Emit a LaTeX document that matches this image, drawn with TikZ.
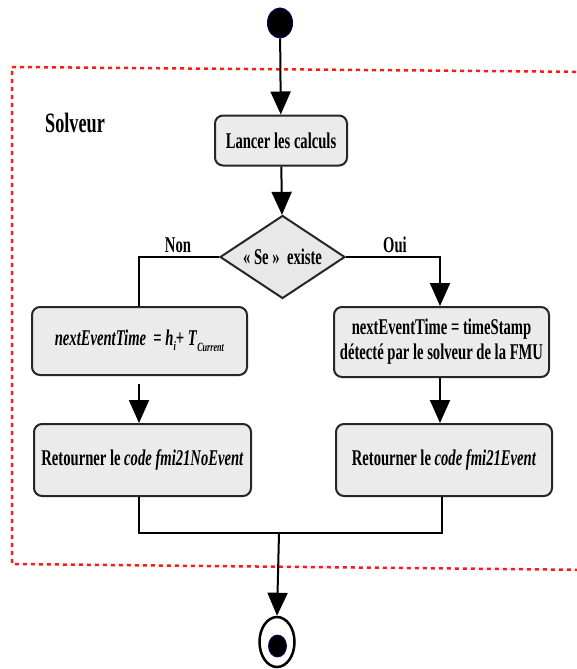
\documentclass[tikz,border=0pt]{standalone}
\usepackage{fontspec}
\setmainfont{Liberation Serif}[FakeStretch=0.65]
\usetikzlibrary{shapes.geometric,arrows.meta}
\tikzset{
  x=1pt,y=1pt,
  base/.style={line width=2pt, draw=black!85},
  actbox/.style={base, rectangle, rounded corners=8pt, fill=black!8, align=center,
     font=\fontsize{22.5}{25}\selectfont\bfseries, inner sep=0pt},
  decbox/.style={base, diamond, fill=black!9, inner sep=0pt},
  lbl/.style={font=\fontsize{22.5}{25}\selectfont\bfseries, inner sep=0pt},
  conn/.style={line width=2pt, draw=black},
  arr/.style={conn, -{Triangle[width=20pt,length=23pt]}},
}
\begin{document}
\begin{tikzpicture}
\clip (0,0) rectangle (577,-669);
\fill[white] (0,0) rectangle (577,-669);
% frame
\draw[red!90!white, line width=2.5pt, dash pattern=on 4pt off 4pt]
  (600,-72) -- (12,-67) -- (12,-564) -- (600,-570);
\node[lbl, font=\fontsize{28}{30}\selectfont\bfseries] (solv) at (75,-123) {Solveur};
% nodes
\node[ellipse, fill=black, draw=blue!40!black, line width=1pt, minimum width=25pt, minimum height=30pt, inner sep=0pt] (start) at (280,-23) {};
\node[actbox, minimum width=132pt, minimum height=50pt] (lancer) at (281,-140.5) {Lancer les calculs};
\node[decbox, minimum width=125pt, minimum height=83pt, aspect=1.5] (dec) at (282.5,-257) {};
\node[lbl] (dectext) at (282.5,-257) {«\,Se\,»\ \ existe};
\node[actbox, minimum width=215pt, minimum height=68pt] (l1) at (139.5,-341)
  {\textit{nextEventTime}\ \ = \textit{h}\raisebox{-5pt}{\fontsize{13}{13}\selectfont\textit{i}}+ \textit{T}\raisebox{-6pt}{\fontsize{12.5}{12.5}\selectfont\textit{Current}}};
\node[actbox, minimum width=215pt, minimum height=70pt] (r1) at (441.5,-342)
  {nextEventTime = timeStamp\\ détecté par le solveur de la FMU};
\node[actbox, minimum width=217pt, minimum height=72pt] (l2) at (142.5,-460)
  {Retourner le \textit{code fmi21NoEvent}};
\node[actbox, minimum width=216pt, minimum height=72pt] (r2) at (444,-460)
  {Retourner le \textit{code fmi21Event}};
\node[ellipse, draw=black, line width=2.5pt, fill=white, minimum width=35pt, minimum height=50pt, inner sep=0pt] (endo) at (277,-642) {};
\node[ellipse, fill=black, draw=blue!40!black, line width=0.8pt, minimum width=18pt, minimum height=22pt, inner sep=0pt] (endi) at (277.5,-646) {};
\node[lbl] (non) at (178,-245) {Non};
\node[lbl] (oui) at (395,-245) {Oui};
\coordinate (mL) at (139,-533);
\coordinate (mR) at (442,-533);
\coordinate (mC) at (279,-533);
% connectors
\draw[arr] (start) -- (lancer);
\draw[arr] (lancer) -- (dec);
\draw[conn] (dec.west) -| (l1.north -| mL);
\draw[arr] (dec.east) -| (r1.north -| 440,0);
\draw[arr] (l1.south -| mL) ++(0,-8) -- (l2.north -| mL);
\draw[arr] (r1.south -| 440,0) -- (r2.north -| 440,0);
\draw[conn] (l2.south -| mL) -- (mL) -- (mR) -- (r2.south -| mR);
\draw[arr] (mC) -- (endo.north);
\end{tikzpicture}
\end{document}
